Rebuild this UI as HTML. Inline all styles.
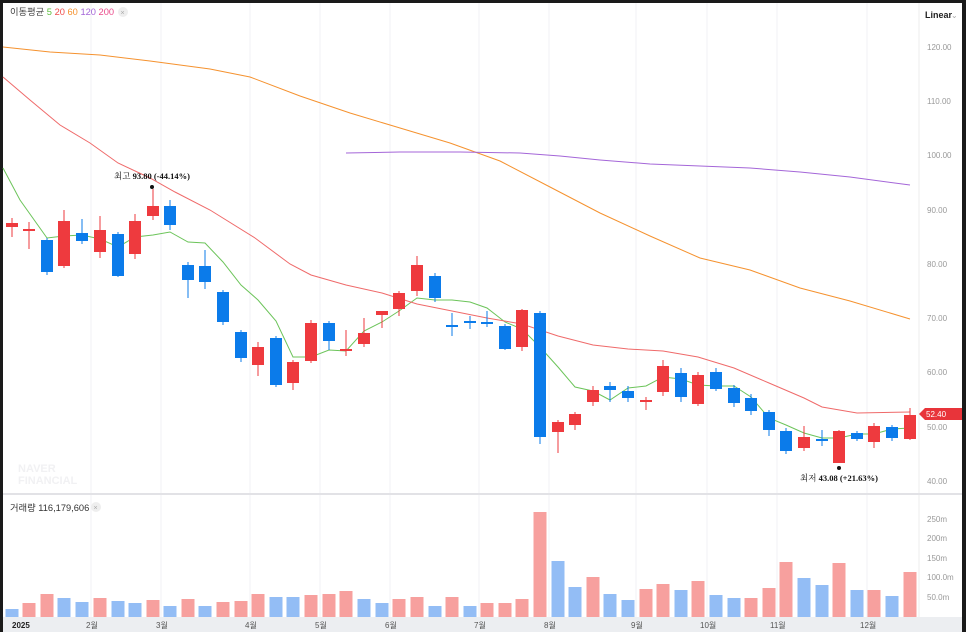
<!DOCTYPE html>
<html><head><meta charset="utf-8"><style>
html,body{margin:0;padding:0;background:#111;}
svg{display:block;font-family:"Liberation Sans","Noto Sans CJK KR",sans-serif;}
</style></head><body>
<svg id="s" width="966" height="632" viewBox="0 0 966 632" xmlns="http://www.w3.org/2000/svg">
<rect x="0" y="0" width="966" height="632" fill="#1a1a1a"/>
<rect x="3" y="3" width="959" height="629" fill="#fff"/>
<g id="grid" stroke="#f2f2f4" stroke-width="1"></g>
<line x1="919" y1="3" x2="919" y2="617" stroke="#eeeeee"/>
<line x1="3" y1="494" x2="962" y2="494" stroke="#e2e2e6" stroke-width="2"/>
<rect x="3" y="617" width="959" height="15" fill="#eceef1"/>
<g id="ma"></g>
<g id="c"></g>
<g id="v"></g>
<g font-size="8" fill="#999">
<text x="927" y="50">120.00</text><text x="927" y="104">110.00</text><text x="927" y="158">100.00</text>
<text x="927" y="213">90.00</text><text x="927" y="267">80.00</text><text x="927" y="321">70.00</text>
<text x="927" y="375">60.00</text><text x="927" y="430">50.00</text><text x="927" y="484">40.00</text>
<text x="927" y="522">250m</text><text x="927" y="541">200m</text><text x="927" y="561">150m</text>
<text x="927" y="580">100.0m</text><text x="927" y="600">50.0m</text>
</g>
<path d="M919,414 L925,408 L962,408 L962,420 L925,420 Z" fill="#e8343a"/>
<text x="926" y="417" font-size="8" fill="#fff">52.40</text>
<text x="925" y="18" font-size="9" fill="#222" font-weight="bold">Linear</text>
<text x="951" y="18" font-size="8" fill="#aaa">⌄</text>
<text x="10" y="15" font-size="9.3" fill="#444">이동평균 <tspan fill="#5cbf3d">5</tspan> <tspan fill="#ef4a4a">20</tspan> <tspan fill="#f5922f">60</tspan> <tspan fill="#a466d8">120</tspan> <tspan fill="#ea4a8a">200</tspan></text>
<circle cx="123" cy="12" r="5" fill="#eee"/><text x="120.5" y="15" font-size="7" fill="#aaa">×</text>
<text x="10" y="511" font-size="9.3" fill="#333">거래량 116,179,606</text>
<circle cx="96" cy="507" r="5" fill="#eee"/><text x="93.5" y="510" font-size="7" fill="#aaa">×</text>
<text x="114" y="179" font-size="8.5" fill="#111" font-family="Liberation Serif,'Noto Serif CJK SC',serif">최고 <tspan font-weight="bold">93.80 (-44.14%)</tspan></text>
<circle cx="152" cy="187" r="2" fill="#111"/>
<circle cx="839" cy="468" r="2" fill="#111"/>
<text x="800" y="481" font-size="8.5" fill="#111" font-family="Liberation Serif,'Noto Serif CJK SC',serif">최저 <tspan font-weight="bold">43.08 (+21.63%)</tspan></text>
<text x="18" y="472" font-size="11" font-weight="bold" fill="#f1f1f3">NAVER</text>
<text x="18" y="484" font-size="11" font-weight="bold" fill="#f1f1f3">FINANCIAL</text>
<g font-size="8" fill="#555">
<text x="12" y="628" font-weight="bold" fill="#222">2025</text><text x="86" y="628">2월</text><text x="156" y="628">3월</text>
<text x="245" y="628">4월</text><text x="315" y="628">5월</text><text x="385" y="628">6월</text><text x="474" y="628">7월</text>
<text x="544" y="628">8월</text><text x="631" y="628">9월</text><text x="700" y="628">10월</text><text x="770" y="628">11월</text><text x="860" y="628">12월</text>
</g>
</svg>
<script>
var NS="http://www.w3.org/2000/svg";
function el(p,t,a){var e=document.createElementNS(NS,t);for(var k in a)e.setAttribute(k,a[k]);document.getElementById(p).appendChild(e);return e;}
[91,161,250,320,390,479,549,636,707,777,867].forEach(function(x){el("grid","line",{x1:x,y1:3,x2:x,y2:617});});
var C=[[12,223,227,218,237,1],[29,229,231,222,249,1],[47,240,272,238,275,0],[64,221,266,210,268,1],[82,233,241,219,244,0],[100,230,252,216,258,1],[118,234,276,232,277,0],[135,221,254,214,259,1],[153,206,216,189,220,1],[170,206,225,200,230,0],[188,265,280,262,298,0],[205,266,282,250,289,0],[223,292,322,290,325,0],[241,332,358,330,362,0],[258,347,365,342,376,1],[276,338,385,336,387,0],[293,362,383,360,390,1],[311,323,361,320,363,1],[329,323,341,321,350,0],[346,349,351,330,356,1],[364,333,344,318,347,1],[382,311,315,311,328,1],[399,293,309,291,316,1],[417,265,291,256,296,1],[435,276,298,273,302,0],[452,325,327,313,336,0],[470,321,323,316,329,0],[487,322,324,311,327,0],[505,326,349,324,350,0],[522,310,347,309,351,1],[540,313,437,311,444,0],[558,422,432,420,453,1],[575,414,425,412,430,1],[593,390,402,386,406,1],[610,386,390,382,402,0],[628,391,398,386,402,0],[646,400,402,397,410,1],[663,366,392,360,396,1],[681,373,397,368,402,0],[698,375,404,372,406,1],[716,372,389,368,391,0],[734,388,403,385,407,0],[751,398,411,394,415,0],[769,412,430,410,436,0],[786,431,451,428,454,0],[804,437,448,426,451,1],[822,439,440,430,446,0],[839,431,463,430,463,1],[857,433,439,431,441,0],[874,426,442,423,448,1],[892,427,438,425,441,0],[910,415,439,408,440,1]];
var V=[609,603,594,598,602,598,601,603,600,606,599,606,602,601,594,597,597,595,594,591,599,603,599,597,606,597,606,603,603,599,512,561,587,577,594,600,589,584,590,581,595,598,598,588,562,578,585,563,590,590,596,572];
var VC="0110010010101110011100110101111001001101001110010101".split("");
C.forEach(function(c,i){var x=c[0],col=c[5]?"#ee3a3e":"#0b7bea";
el("c","line",{x1:x,y1:c[3],x2:x,y2:c[4],stroke:col,"stroke-width":1});
el("c","rect",{x:x-6,y:c[1],width:12,height:Math.max(2,c[2]-c[1]),fill:col});
el("v","rect",{x:x-6.5,y:V[i],width:13,height:617-V[i],fill:VC[i]=="1"?"#f7a09e":"#93bdf5"});});
function pl(pts,col){el("ma","polyline",{points:pts,fill:"none",stroke:col,"stroke-width":1});}
pl("3,168 20,200 47,238 64,236 82,235 100,239 118,247 135,237 153,235 170,232 188,242 205,243 223,262 241,285 258,300 276,321 293,357 311,357 329,350 346,351 364,331 382,322 399,311 417,298 435,300 452,300 470,302 487,308 505,322 522,329 540,347 558,367 575,387 593,391 610,400 628,388 646,386 663,377 681,379 698,385 716,386 734,386 751,397 769,418 786,425 804,433 822,438 839,438 857,434 874,434 892,429 910,428","#6cc45a");
pl("3,77 30,100 60,125 90,143 118,163 150,178 175,192 210,210 255,238 290,264 311,275 346,285 382,293 417,304 452,311 487,318 522,324 558,336 593,345 628,349 663,351 698,357 734,368 769,383 804,398 822,407 857,413 910,412","#ef6a6a");
pl("3,47 50,52 100,55 150,61 210,69 250,77 300,96 350,113 400,128 450,143 500,161 550,187 600,213 650,236 700,258 750,270 800,288 850,301 910,319","#f5922f");
pl("346,153 400,152 460,152 520,153 560,156 600,160 650,164 700,166 750,168 800,172 850,177 910,185","#a466d8");
</script>
</body></html>
